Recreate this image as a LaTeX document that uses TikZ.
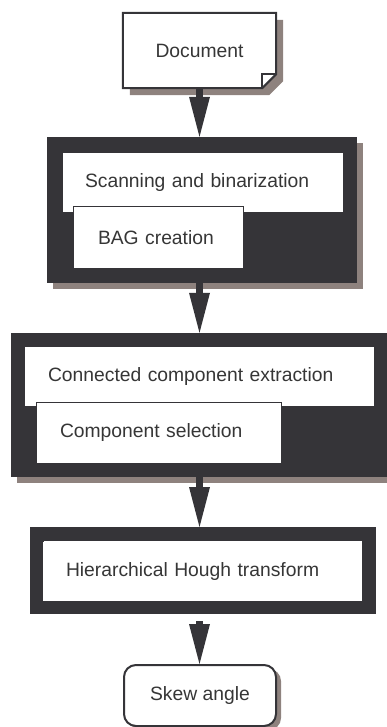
\documentclass[tikz,border=0pt]{standalone}
\usepackage{fontspec}
\setmainfont{Liberation Sans}
\usetikzlibrary{arrows.meta,shadows,backgrounds}
\definecolor{dk}{HTML}{353438}
\definecolor{sh}{HTML}{8E827E}
\definecolor{tx}{HTML}{363636}
\begin{document}
\begin{tikzpicture}[x=1pt,y=-1pt,
  every node/.style={font=\fontsize{19.3}{23}\selectfont, text=tx},
  darkbox/.style={fill=dk, draw=none, inner sep=0pt,
    drop shadow={shadow xshift=6pt, shadow yshift=-6pt, fill=sh, opacity=1}},
  whitebox/.style={fill=white, inner ysep=0pt, align=left},
  framebox/.style={fill=white, draw=dk, line width=14pt, inner sep=0pt,
    drop shadow={shadow xshift=6pt, shadow yshift=-7pt, fill=sh, opacity=1}},
  endbox/.style={fill=white, draw=dk, line width=2pt, rounded corners=12pt, inner sep=0pt,
    drop shadow={shadow xshift=5pt, shadow yshift=-4pt, fill=sh, opacity=1}},
  conn/.style={draw=dk, line width=7pt, -{Triangle[length=40pt,width=21pt,line width=0pt]}}
]
\useasboundingbox (0,0) rectangle (386,727);

% Document
\node[inner sep=0pt, minimum width=153pt, minimum height=75pt] (doc) at (199.5,50.5) {Document};
\begin{scope}[on background layer]
  \fill[sh] ([shift={(7pt,-7pt)}]doc.north west) -- ([shift={(7pt,-7pt)}]doc.north east)
     -- ([shift={(7pt,7pt)}]doc.south east) -- ([shift={(-7pt,-7pt)}]doc.south east)
     -- ([shift={(7pt,-7pt)}]doc.south west) -- cycle;
  \filldraw[fill=white, draw=dk, line width=2pt, line join=miter] (doc.north west) -- (doc.north east)
     -- ([yshift=14pt]doc.south east) -- ([xshift=-14pt]doc.south east) -- (doc.south west) -- cycle;
  \draw[dk, line width=2pt] ([xshift=-14pt]doc.south east) -- ([xshift=-14pt,yshift=14pt]doc.south east)
     -- ([yshift=14pt]doc.south east);
\end{scope}

% Group 1
\node[darkbox, minimum width=310pt, minimum height=146pt] (g1) at (202,210) {};
\node[whitebox, inner xsep=22pt, text width=236pt, minimum height=59pt] (scan) at (203,182.5) {Scanning and binarization};
\node[whitebox, draw=dk, line width=1pt, inner xsep=25pt, text width=120pt, minimum height=61pt] (bag) at (158,237.5) {BAG creation};

% Group 2
\node[darkbox, minimum width=376pt, minimum height=144pt] (g2) at (199,405) {};
\node[whitebox, inner xsep=23pt, text width=303pt, minimum height=59pt] (cce) at (199.5,376.5) {Connected component extraction};
\node[whitebox, draw=dk, line width=1pt, inner xsep=24pt, text width=197pt, minimum height=61pt] (sel) at (158.5,432.5) {Component selection};

% Hough
\node[framebox, minimum width=332pt, minimum height=73pt] (hough) at (203,570.5) {};
\node[whitebox, inner xsep=23pt, text width=273pt, minimum height=59pt] (hht) at (202.5,571.5) {Hierarchical Hough transform};

% Skew angle
\node[endbox, minimum width=152pt, minimum height=61pt] (skew) at (200,695.5) {Skew angle};

% Connectors
\draw[conn] (doc.south) -- (doc.south |- g1.north);
\draw[conn] (doc.south |- g1.south) -- (doc.south |- g2.north);
\draw[conn] (doc.south |- g2.south) -- (doc.south |- hough.north west);
\draw[conn] ([yshift=-7pt]doc.south |- hough.south) -- (doc.south |- skew.north);
\end{tikzpicture}
\end{document}
